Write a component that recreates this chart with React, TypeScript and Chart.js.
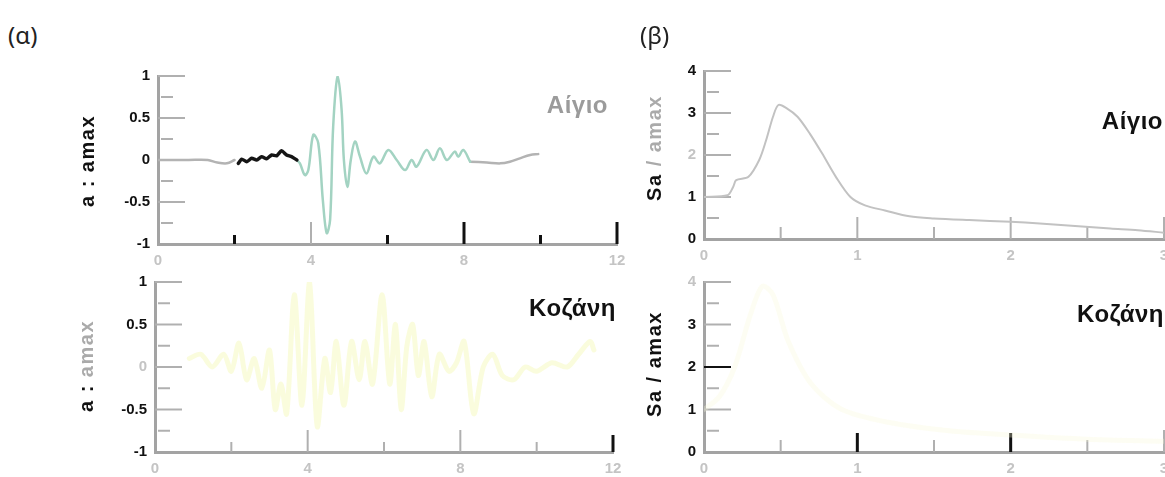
import React, { useEffect, useRef } from "react";
import { Chart, registerables } from "chart.js";

Chart.register(...registerables);

// ---------- DATA ----------
// Αίγιο acceleration time history (normalised a / amax), split by colour as in the figure
const aigioPreT = [0, 0.8, 1.3, 1.55, 1.8, 2.0];
const aigioPreV = [0, 0, 0, -0.03, -0.04, 0];
const aigioBlackT = [2.1, 2.19, 2.32, 2.45, 2.58, 2.71, 2.84, 2.97, 3.1, 3.23, 3.36, 3.49, 3.63];
const aigioBlackV = [-0.04, 0.01, -0.02, 0.02, 0.0, 0.04, 0.015, 0.06, 0.05, 0.11, 0.06, 0.04, 0.0];
const aigioPulseT = [3.63, 3.71, 3.84, 3.93, 4.06, 4.19, 4.31, 4.41, 4.5, 4.58, 4.7, 4.8, 4.86, 4.95, 5.04, 5.15, 5.28, 5.45, 5.63, 5.8, 6.02, 6.24, 6.46, 6.63, 6.76, 7.02, 7.2, 7.37, 7.55, 7.76, 7.85, 7.98, 8.16];
const aigioPulseV = [0.0, -0.04, -0.18, -0.12, 0.3, 0.2, -0.48, -0.87, -0.71, 0.4, 1.0, 0.6, 0.0, -0.32, 0.0, 0.22, 0.04, -0.16, 0.04, -0.04, 0.12, 0.0, -0.12, 0.0, -0.08, 0.12, 0.0, 0.14, 0.0, 0.1, 0.04, 0.12, -0.02];
const aigioPostT = [8.16, 8.6, 8.95, 9.2, 9.46, 9.73, 9.94];
const aigioPostV = [-0.02, -0.03, -0.04, -0.02, 0.02, 0.06, 0.07];

// Κοζάνη acceleration time history
const kozaniT = [0.9, 1.2, 1.5, 1.8, 2.0, 2.2, 2.4, 2.6, 2.8, 3.0, 3.15, 3.3, 3.45, 3.65, 3.85, 4.05, 4.25, 4.45, 4.6, 4.75, 4.95, 5.15, 5.35, 5.5, 5.7, 5.95, 6.15, 6.3, 6.45, 6.6, 6.75, 6.9, 7.05, 7.25, 7.45, 7.7, 7.9, 8.1, 8.35, 8.6, 8.85, 9.1, 9.4, 9.7, 10.0, 10.4, 10.8, 11.1, 11.4, 11.5];
const kozaniV = [0.1, 0.15, 0.0, 0.15, -0.05, 0.28, -0.15, 0.1, -0.25, 0.2, -0.5, -0.2, -0.55, 0.85, -0.45, 1.0, -0.7, 0.1, -0.3, 0.3, -0.45, 0.3, -0.15, 0.3, -0.2, 0.85, -0.2, 0.5, -0.5, 0.25, 0.5, -0.1, 0.3, -0.35, 0.15, -0.05, 0.05, 0.3, -0.55, 0.0, 0.15, -0.1, -0.15, 0.0, -0.05, 0.05, 0.0, 0.15, 0.3, 0.2];

// Spectra Sa / amax versus period T (s)
const aigioSpecT = [0, 0.153, 0.19, 0.21, 0.29, 0.36, 0.405, 0.45, 0.485, 0.54, 0.61, 0.69, 0.77, 0.86, 0.955, 1.05, 1.18, 1.34, 1.5, 1.73, 2.0, 2.19, 2.42, 2.65, 2.83, 3.0];
const aigioSpecV = [1.0, 1.04, 1.24, 1.4, 1.48, 1.88, 2.35, 2.91, 3.19, 3.11, 2.91, 2.51, 2.04, 1.48, 1.0, 0.8, 0.68, 0.54, 0.49, 0.45, 0.41, 0.37, 0.31, 0.25, 0.21, 0.15];
const kozaniSpecT = [0, 0.1, 0.2, 0.3, 0.38, 0.45, 0.55, 0.7, 0.9, 1.2, 1.6, 2.0, 2.5, 3.0];
const kozaniSpecV = [1.0, 1.3, 2.0, 3.2, 3.9, 3.7, 2.6, 1.6, 1.0, 0.7, 0.5, 0.4, 0.3, 0.25];

// Axis ticks
const timeLabelStep = 4;
const timeMinorTicks = [2, 4, 6, 8, 10, 12];
const accYTicks = [1, 0.75, 0.5, 0.25, 0, -0.25, -0.5, -0.75];
const periodMinorTicks = [0.5, 1, 1.5, 2, 2.5, 3];
const specYTicks = [4, 3.5, 3, 2.5, 2, 1.5, 1, 0.5];

const GRAY = "#a3a3a3";
const LIGHT = "#c4c4c4";
const BLACK = "#111111";
const FONT = "'Liberation Sans', Arial, sans-serif";

const pts = (t: number[], v: number[]) => t.map((x, i) => ({ x, y: v[i] }));

const inTicks = {
  id: "inTicks",
  beforeDatasetsDraw(chart: any, _a: any, opts: any) {
    const { ctx, chartArea, scales } = chart;
    ctx.save();
    (opts.y || []).forEach((t: any) => {
      const py = scales.y.getPixelForValue(t.v);
      ctx.strokeStyle = t.c;
      ctx.lineWidth = t.w;
      ctx.beginPath();
      ctx.moveTo(chartArea.left + (t.s || 0), py);
      ctx.lineTo(chartArea.left + t.l, py);
      ctx.stroke();
    });
    (opts.x || []).forEach((t: any) => {
      const px = scales.x.getPixelForValue(t.v);
      ctx.strokeStyle = t.c;
      ctx.lineWidth = t.w;
      ctx.beginPath();
      ctx.moveTo(px, chartArea.bottom);
      ctx.lineTo(px, chartArea.bottom - t.l);
      ctx.stroke();
    });
    ctx.restore();
  },
};

type Panel = {
  left: number; top: number; width: number; height: number;
  yWidth: number; xHeight: number; padTop: number; padRight: number;
  xMax: number; xStep: number; yMin: number; yMax: number; yStep: number;
  datasets: any[];
  yLabelValues: number[]; yLabelColors: string[];
  yTicks: any[]; xTicks: any[];
};

function makeConfig(p: Panel): any {
  return {
    type: "line",
    data: { datasets: p.datasets },
    plugins: [inTicks],
    options: {
      animation: false,
      responsive: false,
      maintainAspectRatio: false,
      layout: { padding: { top: p.padTop, right: p.padRight, left: 0, bottom: 0 } },
      elements: { point: { radius: 0 }, line: { tension: 0.35, borderCapStyle: "round", borderJoinStyle: "round" } },
      plugins: {
        legend: { display: false },
        tooltip: { enabled: false },
        inTicks: { y: p.yTicks, x: p.xTicks },
      },
      scales: {
        x: {
          type: "linear",
          min: 0,
          max: p.xMax,
          grid: { display: false, drawTicks: false },
          border: { display: true, color: GRAY, width: 3 },
          ticks: {
            stepSize: p.xStep, color: LIGHT, padding: 8,
            font: { family: FONT, size: 15, weight: "bold" },
            callback: (v: any) => String(v),
          },
          afterFit: (s: any) => { s.height = p.xHeight; },
        },
        y: {
          min: p.yMin,
          max: p.yMax,
          grid: { display: false, drawTicks: false },
          border: { display: true, color: GRAY, width: 3 },
          ticks: {
            stepSize: p.yStep,
            padding: 8,
            font: { family: FONT, size: 15, weight: "bold" },
            callback: (v: any) => String(v),
            color: (c: any) => {
              const i = p.yLabelValues.indexOf(c.tick.value);
              return i >= 0 ? p.yLabelColors[i] : BLACK;
            },
          },
          afterFit: (s: any) => { s.width = p.yWidth; },
        },
      },
    },
  };
}

const yT = (vals: number[], colors: Record<number, string> = {}) =>
  vals.map((v, i) => ({ v, l: i % 2 === 0 ? 27 : 15, s: i % 2 === 0 ? 0 : 3, c: colors[v] || "#b0b0b0", w: 2 }));

const panels: Panel[] = [
  {
    left: 60, top: 50, width: 590, height: 230, yWidth: 98, xHeight: 36, padTop: 26, padRight: 33,
    xMax: 12, xStep: timeLabelStep, yMin: -1, yMax: 1, yStep: 0.5,
    datasets: [
      { data: pts(aigioPreT, aigioPreV), borderColor: "#b3b3b3", borderWidth: 2.5 },
      { data: pts(aigioBlackT, aigioBlackV), borderColor: "#151515", borderWidth: 3.5, tension: 0.2 },
      { data: pts(aigioPulseT, aigioPulseV), borderColor: "#a3d3c2", borderWidth: 2.5 },
      { data: pts(aigioPostT, aigioPostV), borderColor: "#b3b3b3", borderWidth: 2.5 },
    ],
    yLabelValues: [1, 0.5, 0, -0.5, -1], yLabelColors: [BLACK, BLACK, BLACK, BLACK, BLACK],
    yTicks: yT(accYTicks),
    xTicks: timeMinorTicks.map((v) => ({
      v, l: v % 4 === 0 ? 22 : 9,
      c: v === 4 ? "#b0b0b0" : BLACK, w: v === 4 ? 2 : 3,
    })),
  },
  {
    left: 60, top: 265, width: 590, height: 212, yWidth: 95, xHeight: 25, padTop: 17, padRight: 37,
    xMax: 12, xStep: timeLabelStep, yMin: -1, yMax: 1, yStep: 0.5,
    datasets: [
      { data: pts(kozaniT, kozaniV), borderColor: "rgba(240,245,150,0.32)", borderWidth: 5, tension: 0.3 },
    ],
    yLabelValues: [1, 0.5, 0, -0.5, -1], yLabelColors: [BLACK, BLACK, LIGHT, BLACK, BLACK],
    yTicks: yT(accYTicks),
    xTicks: timeMinorTicks.map((v) => ({
      v, l: v % 4 === 0 ? (v === 12 ? 17 : 22) : 10,
      c: v === 12 ? BLACK : "#b0b0b0", w: v === 12 ? 3 : 2,
    })),
  },
  {
    left: 670, top: 50, width: 515, height: 230, yWidth: 34, xHeight: 41, padTop: 21, padRight: 21,
    xMax: 3, xStep: 1, yMin: 0, yMax: 4, yStep: 1,
    datasets: [
      { data: pts(aigioSpecT, aigioSpecV), borderColor: "#c2c2c2", borderWidth: 2, tension: 0.3 },
    ],
    yLabelValues: [4, 3, 2, 1, 0], yLabelColors: [BLACK, BLACK, LIGHT, BLACK, BLACK],
    yTicks: yT(specYTicks),
    xTicks: periodMinorTicks.map((v) => ({
      v, l: Number.isInteger(v) ? 22 : 12, c: "#b0b0b0", w: 2,
    })),
  },
  {
    left: 670, top: 265, width: 515, height: 212, yWidth: 34, xHeight: 25, padTop: 17, padRight: 21,
    xMax: 3, xStep: 1, yMin: 0, yMax: 4, yStep: 1,
    datasets: [
      { data: pts(kozaniSpecT, kozaniSpecV), borderColor: "rgba(250,250,215,0.3)", borderWidth: 5, tension: 0.3 },
    ],
    yLabelValues: [4, 3, 2, 1, 0], yLabelColors: [LIGHT, BLACK, BLACK, BLACK, BLACK],
    yTicks: yT(specYTicks, { 2: BLACK }),
    xTicks: periodMinorTicks.map((v) => ({
      v, l: Number.isInteger(v) ? (v === 3 ? 22 : 19) : 12,
      c: v === 1 || v === 2 ? BLACK : "#b0b0b0", w: v === 1 || v === 2 ? 3 : 2,
    })),
  },
];

function ChartCanvas({ p }: { p: Panel }) {
  const ref = useRef<HTMLCanvasElement | null>(null);
  useEffect(() => {
    if (!ref.current) return;
    const chart = new Chart(ref.current, makeConfig(p));
    return () => chart.destroy();
  }, [p]);
  return (
    <canvas
      ref={ref}
      width={p.width}
      height={p.height}
      style={{ position: "absolute", left: p.left, top: p.top, width: p.width, height: p.height }}
    />
  );
}

const titleStyle = (right: number, cy: number, color: string): React.CSSProperties => ({
  position: "absolute",
  right: 1165 - right,
  top: cy,
  transform: "translateY(-50%)",
  fontFamily: FONT,
  fontWeight: 900,
  fontSize: 24,
  color,
  whiteSpace: "nowrap",
  letterSpacing: "0.5px",
});

const yTitleStyle = (cx: number, cy: number): React.CSSProperties => ({
  position: "absolute",
  left: cx,
  top: cy,
  transform: "translate(-50%, -50%) rotate(-90deg)",
  fontFamily: FONT,
  fontWeight: 700,
  fontSize: 20,
  whiteSpace: "nowrap",
  letterSpacing: "1.5px",
});

export default function App() {
  return (
    <div style={{ position: "fixed", left: 0, top: 0, width: 1165, height: 477, background: "#fff", overflow: "hidden" }}>
      {panels.map((p, i) => (
        <ChartCanvas key={i} p={p} />
      ))}
      <div style={{ position: "absolute", left: 8, top: 18, fontFamily: "'Noto Sans', sans-serif", fontSize: 24, color: "#222" }}>(α)</div>
      <div style={{ position: "absolute", left: 640, top: 18, fontFamily: "'Noto Sans', sans-serif", fontSize: 24, color: "#222" }}>(β)</div>

      <div style={titleStyle(608, 105, "#9b9b9b")}>Αίγιο</div>
      <div style={titleStyle(1163, 121, BLACK)}>Αίγιο</div>
      <div style={titleStyle(616, 308, BLACK)}>Κοζάνη</div>
      <div style={titleStyle(1164, 314, BLACK)}>Κοζάνη</div>

      <div style={yTitleStyle(87, 161)}>
        <span style={{ color: BLACK }}>a : amax</span>
      </div>
      <div style={yTitleStyle(86, 366)}>
        <span style={{ color: BLACK }}>a : </span>
        <span style={{ color: "#aaaaaa" }}>amax</span>
      </div>
      <div style={yTitleStyle(654, 148)}>
        <span style={{ color: BLACK }}>Sa</span>
        <span style={{ color: "#aaaaaa" }}> / amax</span>
      </div>
      <div style={yTitleStyle(654, 364)}>
        <span style={{ color: BLACK }}>Sa / amax</span>
      </div>
    </div>
  );
}
